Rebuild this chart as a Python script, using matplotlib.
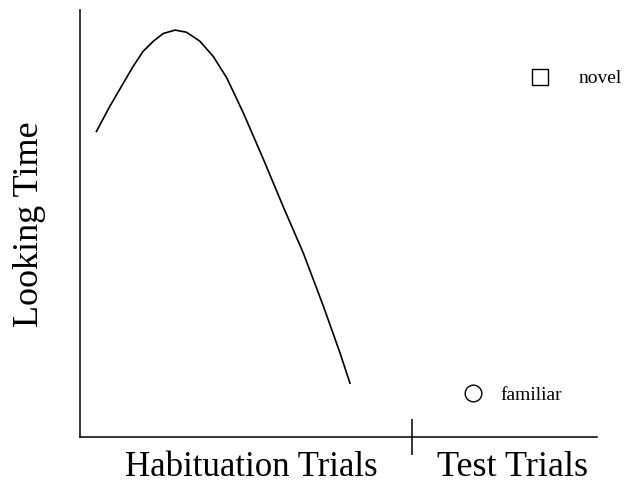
import matplotlib
matplotlib.use('Agg')
import matplotlib.pyplot as plt

plt.rcParams['font.family'] = ['Liberation Serif', 'DejaVu Serif']

# habituation curve, axis fractions
hab_x = [0.032, 0.058, 0.084, 0.103, 0.122, 0.142, 0.161, 0.184, 0.206, 0.232,
         0.258, 0.284, 0.316, 0.355, 0.393, 0.432, 0.471, 0.503, 0.522]
hab_y = [0.715, 0.774, 0.828, 0.867, 0.902, 0.926, 0.944, 0.952, 0.947, 0.926,
         0.890, 0.840, 0.758, 0.649, 0.539, 0.430, 0.305, 0.196, 0.126]

# test trial points
test_labels = ['novel', 'familiar']
test_x = [0.890, 0.760]
test_y = [0.843, 0.103]
test_markers = ['s', 'o']

divider = 0.642
x_labels = ['Habituation Trials', 'Test Trials']
y_label = 'Looking Time'

fig = plt.figure(figsize=(6.34, 4.86), dpi=100)
ax = fig.add_axes([0.126, 0.1008, 0.816, 0.8795])

ax.plot(hab_x, hab_y, color='black', lw=1.2, solid_joinstyle='round')
for lab, x, y, m in zip(test_labels, test_x, test_y, test_markers):
    ax.plot([x], [y], marker=m, ms=11 if m == 's' else 12, mfc='white',
            mec='black', mew=1.0, ls='none')
    ax.text(x + (0.073 if m == 's' else 0.052), y - 0.005, lab,
            fontsize=14, va='center', ha='left')

ax.set_xlim(0, 1)
ax.set_ylim(0, 1)
for s in ['top', 'right']:
    ax.spines[s].set_visible(False)
for s in ['left', 'bottom']:
    ax.spines[s].set_linewidth(1.1)

ax.set_yticks([])
ax.set_xticks([divider])
ax.set_xticklabels([])
ax.tick_params(axis='x', direction='inout', length=26, width=1.1)

ax.text(0.331, -0.072, x_labels[0], transform=ax.transAxes, fontsize=25,
        ha='center', va='center')
ax.text(0.837, -0.072, x_labels[1], transform=ax.transAxes, fontsize=26,
        ha='center', va='center')
fig.text(30 / 634, 1 - 224 / 486, y_label, rotation=90, fontsize=26,
         ha='center', va='center')

fig.savefig('out.png', dpi=100)
